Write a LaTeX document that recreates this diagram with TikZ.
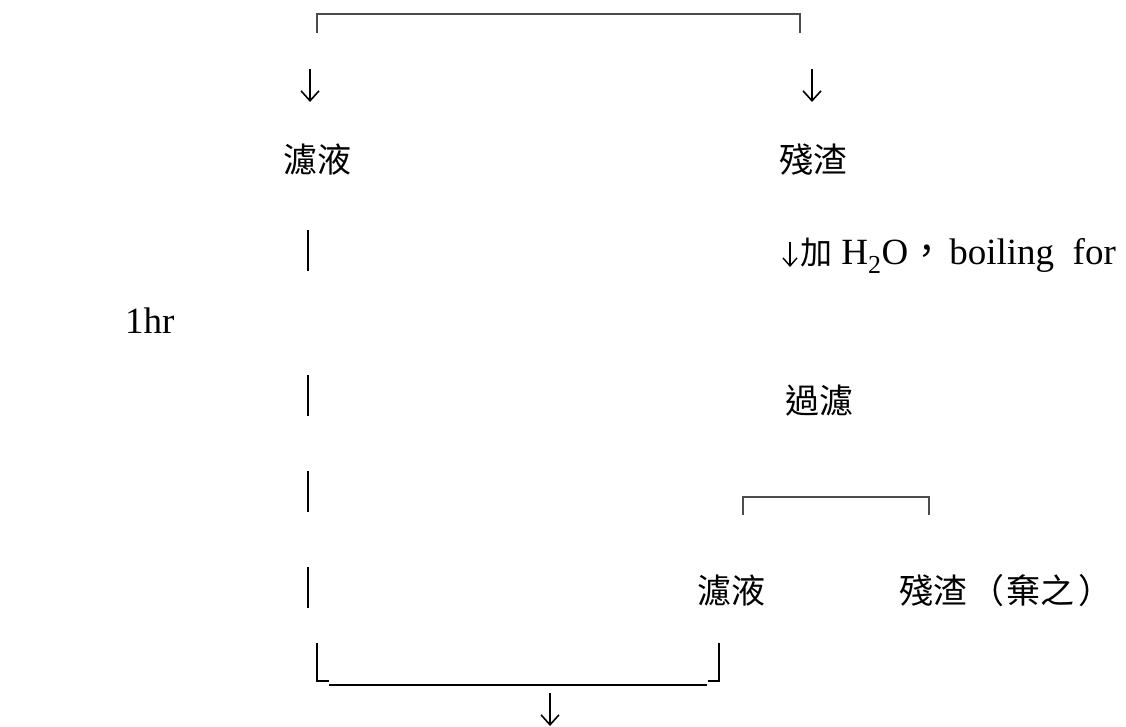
\documentclass[tikz,border=0pt]{standalone}
\usepackage{fontspec}
\setmainfont{Liberation Serif}
\newfontfamily\cjk{Noto Sans CJK TC}
\usetikzlibrary{arrows.meta}
\tikzset{
  bracketline/.style={draw=black!70, line width=1.3pt},
  barline/.style={draw=black, line width=1.8pt},
  downarrow/.style={-{Straight Barb[length=10pt,width=18pt]}, line width=1.6pt},
  smallarrow/.style={-{Straight Barb[length=8pt,width=14pt]}, line width=1.4pt},
  cjklabel/.style={font=\cjk\fontsize{34}{40}\selectfont, inner sep=0pt},
  latin/.style={font=\fontsize{37}{44}\selectfont, inner sep=0pt}
}
\begin{document}
\begin{tikzpicture}[x=1pt,y=-1pt]
\useasboundingbox (0,0) rectangle (1126,727);
\fill[white] (0,0) rectangle (1126,727);

% top split
\coordinate (bl) at (317,33);
\coordinate (br) at (800,33);
\draw[bracketline] (bl) -- ++(0,-19) -| (br);
\coordinate (t1) at (310,69);  \coordinate (t1e) at (310,102);
\coordinate (t2) at (812,69);  \coordinate (t2e) at (812,102);
\draw[downarrow] (t1) -- (t1e);
\draw[downarrow] (t2) -- (t2e);

\node[cjklabel] (f1) at (317,160) {濾液};
\node[cjklabel] (r1) at (813,160) {殘渣};

% right branch
\coordinate (s1) at (790,242); \coordinate (s1e) at (790,267);
\draw[smallarrow] (s1) -- (s1e);
\node[latin, anchor=base west] (boil) at (800,265) {{\cjk\fontsize{32}{40}\selectfont 加} H\textsubscript{2}O{\cjk ，}\hspace{4pt}boiling\ \ for};
\node[latin, anchor=base west] (hr) at (125,333) {1hr};
\node[cjklabel] (filt) at (819,401) {過濾};

\coordinate (sl) at (743,515);
\coordinate (sr) at (929,515);
\draw[bracketline] (sl) -- ++(0,-18) -| (sr);

\node[cjklabel] (f2) at (731,591) {濾液};
\node[cjklabel, anchor=west] (r2) at (899,591) {殘渣\hspace{3pt}（\hspace{2pt}棄之\hspace{4pt}）};

% left column bars
\coordinate (v1a) at (308,230); \coordinate (v1b) at (308,271);
\coordinate (v2a) at (308,375); \coordinate (v2b) at (308,416);
\coordinate (v3a) at (308,471); \coordinate (v3b) at (308,512);
\coordinate (v4a) at (308,567); \coordinate (v4b) at (308,608);
\draw[barline] (v1a) -- (v1b);
\draw[barline] (v2a) -- (v2b);
\draw[barline] (v3a) -- (v3b);
\draw[barline] (v4a) -- (v4b);

% bottom merge
\coordinate (ml) at (317,643);
\coordinate (mr) at (719,643);
\draw[barline] (ml) -- (317,681) -- (329,681);
\draw[barline] (329,685) -- (707,685);
\draw[barline] (708,681) -- (719,681) -- (mr);
\coordinate (m1) at (550,693); \coordinate (m1e) at (550,726);
\draw[downarrow] (m1) -- (m1e);
\end{tikzpicture}
\end{document}
